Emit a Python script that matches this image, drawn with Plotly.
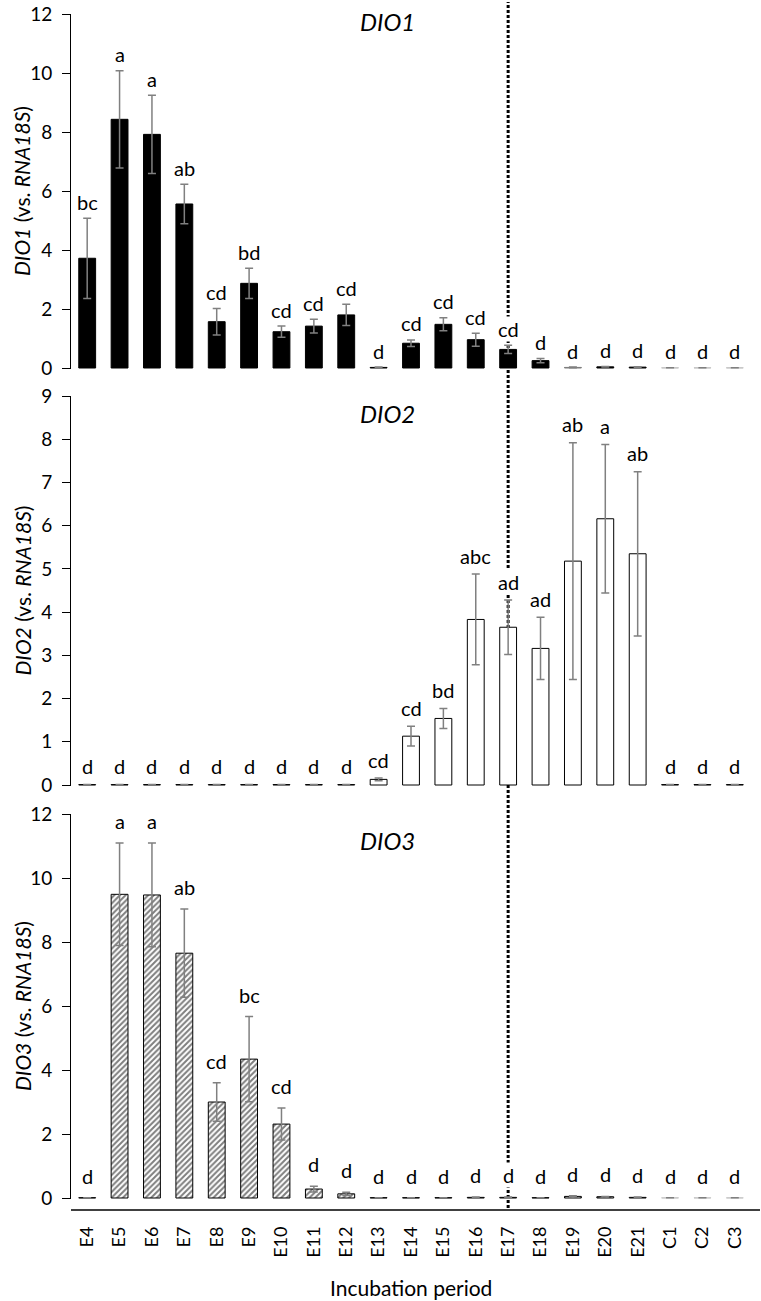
import plotly.graph_objects as go

# ---------------- data ----------------
cats = ["E4", "E5", "E6", "E7", "E8", "E9", "E10", "E11", "E12", "E13", "E14",
        "E15", "E16", "E17", "E18", "E19", "E20", "E21", "C1", "C2", "C3"]

dio1 = [3.72, 8.43, 7.92, 5.56, 1.57, 2.87, 1.23, 1.42, 1.80, 0.02, 0.84,
        1.48, 0.96, 0.63, 0.25, 0.02, 0.04, 0.03, 0.005, 0.005, 0.005]
dio1_err = [1.36, 1.65, 1.33, 0.67, 0.45, 0.51, 0.19, 0.23, 0.36, 0.01, 0.11,
            0.22, 0.22, 0.14, 0.07, 0.01, 0.01, 0.01, 0, 0, 0]
dio1_letters = ["bc", "a", "a", "ab", "cd", "bd", "cd", "cd", "cd", "d", "cd",
                "cd", "cd", "cd", "d", "d", "d", "d", "d", "d", "d"]

dio2 = [0.01, 0.01, 0.01, 0.01, 0.01, 0.01, 0.01, 0.01, 0.01, 0.13, 1.13,
        1.54, 3.83, 3.65, 3.16, 5.18, 6.16, 5.35, 0.01, 0.01, 0.01]
dio2_err = [0, 0, 0, 0, 0, 0, 0, 0, 0, 0.03, 0.23,
            0.23, 1.05, 0.63, 0.72, 2.74, 1.72, 1.90, 0, 0, 0]
dio2_letters = ["d", "d", "d", "d", "d", "d", "d", "d", "d", "cd", "cd",
                "bd", "abc", "ad", "ad", "ab", "a", "ab", "d", "d", "d"]

dio3 = [0.01, 9.49, 9.47, 7.65, 3.00, 4.34, 2.31, 0.28, 0.13, 0.01, 0.01,
        0.01, 0.02, 0.02, 0.01, 0.05, 0.04, 0.02, 0.005, 0.005, 0.005]
dio3_err = [0, 1.60, 1.62, 1.38, 0.60, 1.33, 0.50, 0.09, 0.05, 0, 0,
            0, 0.01, 0.01, 0, 0.02, 0.01, 0.01, 0, 0, 0]
dio3_letters = ["d", "a", "a", "ab", "cd", "bc", "cd", "d", "d", "d", "d",
                "d", "d", "d", "d", "d", "d", "d", "d", "d", "d"]

genes = ["DIO1", "DIO2", "DIO3"]
ymax = [12, 9, 12]
dticks = [2, 1, 2]

# ---------------- layout geometry (page pixels) ----------------
W, H = 761, 1301
L_PX, R_PX = 71, 751
TOP_PX, BOT_PX = 14, 1210
PW, PH = R_PX - L_PX, BOT_PX - TOP_PX
panel_px = [(14, 368), (396, 785), (814, 1198)]   # (top tick, zero)
YMIN_FRAC = 0.0028
FONT = "Lato"


def py(pix):
    return (BOT_PX - pix) / PH


def px(pix):
    return (pix - L_PX) / PW


domains, ranges = [], []
for (tp, zp), ym in zip(panel_px, ymax):
    ppu = (zp - tp) / ym
    ymin = -YMIN_FRAC * ym
    bp = zp - ymin * ppu
    domains.append([py(bp), py(tp)])
    ranges.append([ymin, ym])

grey_light = "#c4c4c4"
line1 = ["black"] * 15 + ["#808080", "black", "black"] + [grey_light] * 3
line2 = ["black"] * 21
line3 = ["black"] * 18 + [grey_light] * 3

fig = go.Figure()
err_style = dict(type="data", color="#808080", thickness=1.5, width=4)

fig.add_trace(go.Bar(x=cats, y=dio1, yaxis="y", width=0.52,
                     marker=dict(color="black", line=dict(color=line1, width=1)),
                     error_y=dict(array=dio1_err, **err_style), showlegend=False))
fig.add_trace(go.Bar(x=cats, y=dio2, yaxis="y2", width=0.52,
                     marker=dict(color="white", line=dict(color=line2, width=1)),
                     error_y=dict(array=dio2_err, **err_style), showlegend=False))
fig.add_trace(go.Bar(x=cats, y=dio3, yaxis="y3", width=0.52,
                     marker=dict(color="white", line=dict(color=line3, width=1),
                                 pattern=dict(shape="/", fgcolor="black", bgcolor="white",
                                              size=4, solidity=0.5)),
                     error_y=dict(array=dio3_err, **err_style), showlegend=False))

annotations = []
gaps = [3.5, 5.5, 9.0]
yrefs = ["y", "y2", "y3"]
for k, (vals, errs, letters) in enumerate([(dio1, dio1_err, dio1_letters),
                                            (dio2, dio2_err, dio2_letters),
                                            (dio3, dio3_err, dio3_letters)]):
    for c, v, e, t in zip(cats, vals, errs, letters):
        annotations.append(dict(x=c, y=v + e, xref="x", yref=yrefs[k], text=t,
                                showarrow=False, yanchor="bottom", xanchor="center",
                                yshift=gaps[k], borderpad=0,
                                bgcolor="white" if c == "E17" else None,
                                font=dict(family=FONT, size=20, color="black")))

title_y = [22, 413, 840]
for k, g in enumerate(genes):
    (tp, zp) = panel_px[k]
    annotations.append(dict(x=px(387), y=py(title_y[k]), xref="paper", yref="paper",
                            text="<i>%s</i>" % g, showarrow=False,
                            xanchor="center", yanchor="middle",
                            font=dict(family=FONT, size=24, color="black")))
    annotations.append(dict(x=px(22), y=py((tp + zp) / 2), xref="paper", yref="paper",
                            text="<i>%s</i> (vs. <i>RNA18S</i>)" % g, showarrow=False,
                            textangle=-90, xanchor="center", yanchor="middle",
                            font=dict(family=FONT, size=21, color="black")))

annotations.append(dict(x=0.5, y=py(1287), xref="paper", yref="paper",
                        text="Incubation period", showarrow=False,
                        xanchor="center", yanchor="middle",
                        font=dict(family=FONT, size=21, color="black")))

shapes = [
    dict(type="line", xref="x", yref="paper", x0="E17", x1="E17",
         y0=py(1208), y1=py(2), layer="below",
         line=dict(color="black", width=3, dash="3px,2px")),
    dict(type="line", xref="paper", yref="paper", x0=0, x1=px(760),
         y0=0, y1=0, line=dict(color="black", width=1.5)),
]

yax = dict(showline=True, linecolor="black", linewidth=1, ticks="outside",
           ticklen=8, tickwidth=1, tickcolor="black", showgrid=False, zeroline=False,
           tickfont=dict(family=FONT, size=19, color="black"), anchor="x",
           ticklabelstandoff=6, automargin=False, ticklabeloverflow="allow")

fig.update_layout(
    width=W, height=H,
    margin=dict(l=L_PX, r=W - R_PX, t=TOP_PX, b=H - BOT_PX, autoexpand=False),
    paper_bgcolor="white", plot_bgcolor="rgba(0,0,0,0)",
    bargap=0.48,
    xaxis=dict(type="category", categoryorder="array", categoryarray=cats,
               anchor="free", position=0, showline=False, ticks="",
               tickangle=-90, showgrid=False, zeroline=False, automargin=False,
               tickfont=dict(family=FONT, size=18, color="black"),
               ticklabelstandoff=12, range=[-0.5, 20.5]),
    yaxis=dict(domain=domains[0], range=ranges[0], dtick=dticks[0], tick0=0, **yax),
    yaxis2=dict(domain=domains[1], range=ranges[1], dtick=dticks[1], tick0=0, **yax),
    yaxis3=dict(domain=domains[2], range=ranges[2], dtick=dticks[2], tick0=0, **yax),
    annotations=annotations,
    shapes=shapes,
)

# remove the browser's default 8px page margin so the figure fills the window
fig.write_html("out.html",
               config={"displayModeBar": False},
               post_script="document.body.style.margin='0';"
                           "document.documentElement.style.overflow='hidden';")
